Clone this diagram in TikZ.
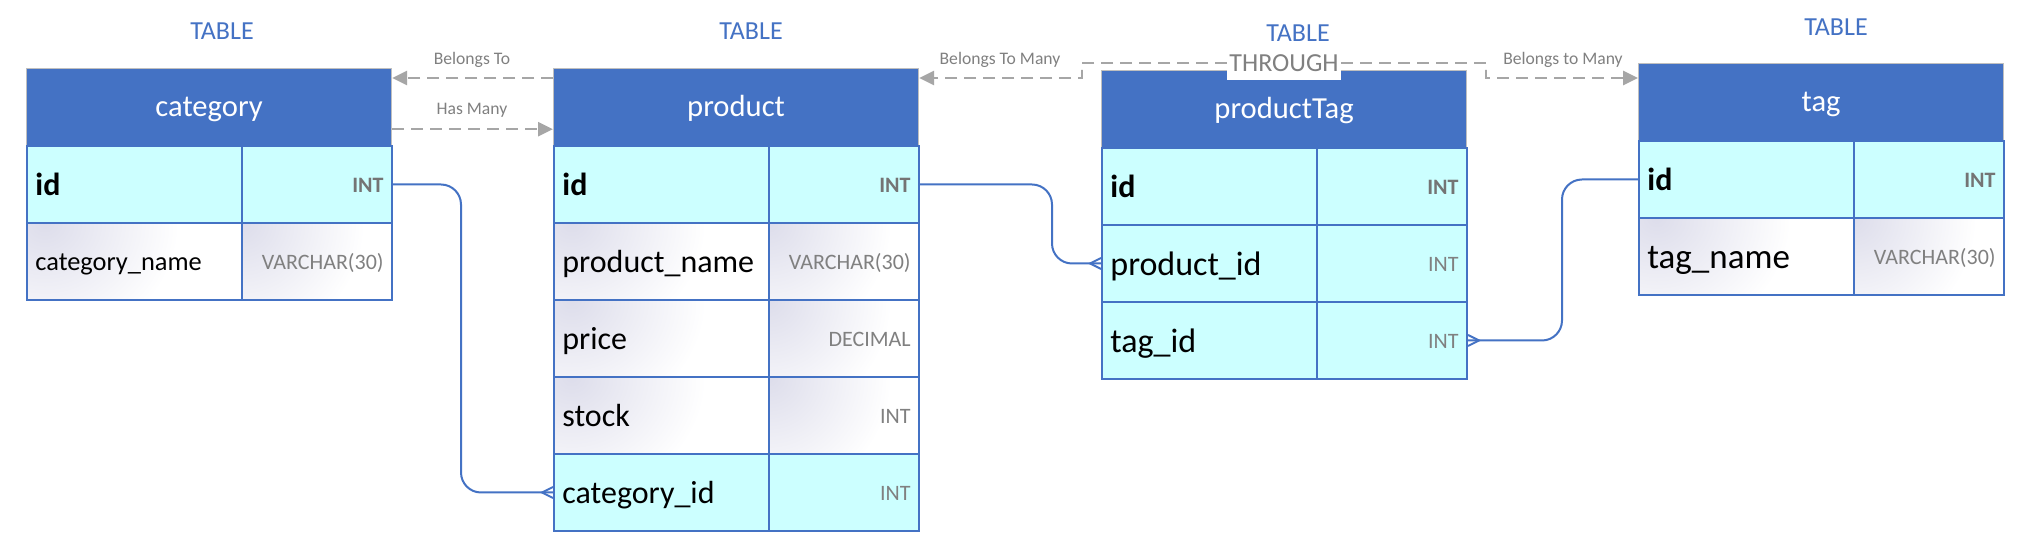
\documentclass[tikz,border=0pt]{standalone}
\usepackage{fontspec}
\setmainfont{Carlito}
\usetikzlibrary{arrows.meta}
\definecolor{tblue}{HTML}{4472C4}
\definecolor{keycyan}{HTML}{CCFFFF}
\definecolor{lav}{HTML}{DDDDEB}
\definecolor{hdrborder}{HTML}{BFBFBF}
\definecolor{typegray}{HTML}{808080}
\definecolor{ktypegray}{HTML}{747474}
\definecolor{relgray}{HTML}{A6A6A6}
\definecolor{lblgray}{HTML}{808080}
\pgfdeclareradialshading{lavfade}{\pgfpoint{0bp}{0bp}}{color(0bp)=(lav); color(17bp)=(white); color(50bp)=(white)}
\newcommand\fsz[1]{\fontsize{#1pt}{#1pt}\selectfont}
\newcommand\dbrow[8]{%
  \node[#4, minimum width=107.5pt] (#1n) at (#2,#3) {};
  \node[#4, minimum width=75pt] (#1t) at (#2+215,#3) {};
  \node[#5, anchor=west] (#1f) at ([xshift=4.5pt]#1n.west) {#6};
  \node[#7, anchor=east] (#1y) at ([xshift=-4.5pt]#1t.east) {#8};
}
\tikzset{
  hdr/.style={anchor=north west, fill=tblue, draw=hdrborder, line width=0.6pt,
    text=white, font=\fsz{15.3}, text height=0.6*15.3pt, text depth=0pt,
    minimum width=182.5pt, minimum height=38.5pt, inner sep=0pt},
  keycell/.style={anchor=north west, minimum height=38.5pt, inner sep=0pt,
    draw=tblue, line width=1pt, fill=keycyan},
  plaincell/.style={anchor=north west, minimum height=38.5pt, inner sep=0pt,
    draw=tblue, line width=1pt, fill=white,
    path picture={\shade[shading=lavfade]
      (path picture bounding box.north west) circle (90pt);}},
  fld/.style={font=\fsz{#1}, text height=0.7*#1pt, text depth=0pt, inner sep=0pt},
  kfld/.style={fld=#1, font=\bfseries\fsz{#1}},
  typ/.style={fld=11, text=typegray},
  ktyp/.style={fld=11, font=\bfseries\fsz{11}, text=ktypegray},
  tbllbl/.style={text=tblue, font=\fsz{13}, inner sep=0pt},
  rel/.style={draw=relgray, line width=1.3pt, dash pattern=on 6pt off 3.5pt,
    -{Triangle[length=7.5pt,width=7pt]}},
  rellbl/.style={fld=8.8, text=lblgray},
  fk/.style={draw=tblue, line width=1pt, rounded corners=10pt},
  foot/.style={draw=tblue, line width=1pt},
}
\begin{document}
\begin{tikzpicture}[x=0.5pt,y=-0.5pt]
\useasboundingbox[fill=white] (0,0) rectangle (2026,549);

% TABLE labels
\node[tbllbl] (catlbl) at (222,31) {TABLE};
\node[tbllbl] (prdlbl) at (751,31) {TABLE};
\node[tbllbl] (ptglbl) at (1298,33) {TABLE};
\node[tbllbl] (taglbl) at (1836,27) {TABLE};

% headers
\node[hdr] (cath) at (26,68) {category};
\node[hdr] (prdh) at (553,68) {product};
\node[hdr] (ptgh) at (1101,70) {productTag};
\node[hdr] (tagh) at (1638,63) {tag};

% category rows
\dbrow{cat1}{26}{145}{keycell}{kfld=16}{id}{ktyp}{INT}
\dbrow{cat2}{26}{222}{plaincell}{fld=13.2}{category\_name}{typ}{VARCHAR(30)}

% product rows
\dbrow{prd1}{553}{145}{keycell}{kfld=16}{id}{ktyp}{INT}
\dbrow{prd2}{553}{222}{plaincell}{fld=16}{product\_name}{typ}{VARCHAR(30)}
\dbrow{prd3}{553}{299}{plaincell}{fld=16}{price}{typ}{DECIMAL}
\dbrow{prd4}{553}{376}{plaincell}{fld=16}{stock}{typ}{INT}
\dbrow{prd5}{553}{453}{keycell}{fld=16}{category\_id}{typ}{INT}

% productTag rows
\dbrow{ptg1}{1101}{147}{keycell}{kfld=16}{id}{ktyp}{INT}
\dbrow{ptg2}{1101}{224}{keycell}{fld=17}{product\_id}{typ}{INT}
\dbrow{ptg3}{1101}{301}{keycell}{fld=17}{tag\_id}{typ}{INT}

% tag rows
\dbrow{tag1}{1638}{140}{keycell}{kfld=16}{id}{ktyp}{INT}
\dbrow{tag2}{1638}{217}{plaincell}{fld=17.5}{tag\_name}{typ}{VARCHAR(30)}

% relations (dashed)
\draw[rel] ([yshift=-5pt]prdh.north west) -- ([yshift=-5pt]cath.north east);
\draw[rel] ([yshift=8.5pt]cath.south east) -- ([yshift=8.5pt]prdh.south west);
\node[rellbl] (lblbt) at (472,58) {Belongs To};
\node[rellbl] (lblhm) at (472,108) {Has Many};

\coordinate (thr) at (1284,63);
\coordinate (bL) at (1082,70);
\coordinate (bR) at (1486,70);
\draw[rel] (thr) -| (bL) |- ([yshift=-5pt]prdh.north east);
\draw[rel] (thr) -| (bR) |- ([yshift=-7.5pt]tagh.north west);
\node[rellbl] (lblbtm) at (1000,58) {Belongs To Many};
\node[rellbl] (lblbtm2) at (1563,58) {Belongs to Many};
\node[fill=white, text=typegray, font=\fsz{13}, text height=0.65*13pt,
  text depth=0.25*13pt, inner xsep=1pt, inner ysep=1pt, anchor=base]
  (thrlbl) at ([yshift=-4.2pt]thr) {THROUGH};

% foreign keys
\coordinate (k1) at (461,0);
\coordinate (k2) at (1052,0);
\coordinate (k3) at (1562,0);
\draw[fk] (cat1t.east) -| (k1 |- prd5n.west) -- (prd5n.west);
\draw[foot] ([yshift=2.75pt]prd5n.west) -- ([xshift=-5.5pt]prd5n.west) -- ([yshift=-2.75pt]prd5n.west);
\draw[fk] (prd1t.east) -| (k2 |- ptg2n.west) -- (ptg2n.west);
\draw[foot] ([yshift=2.75pt]ptg2n.west) -- ([xshift=-5.5pt]ptg2n.west) -- ([yshift=-2.75pt]ptg2n.west);
\draw[fk] (tag1n.west) -| (k3 |- ptg3t.east) -- (ptg3t.east);
\draw[foot] ([yshift=2.75pt]ptg3t.east) -- ([xshift=5.5pt]ptg3t.east) -- ([yshift=-2.75pt]ptg3t.east);
\end{tikzpicture}
\end{document}
